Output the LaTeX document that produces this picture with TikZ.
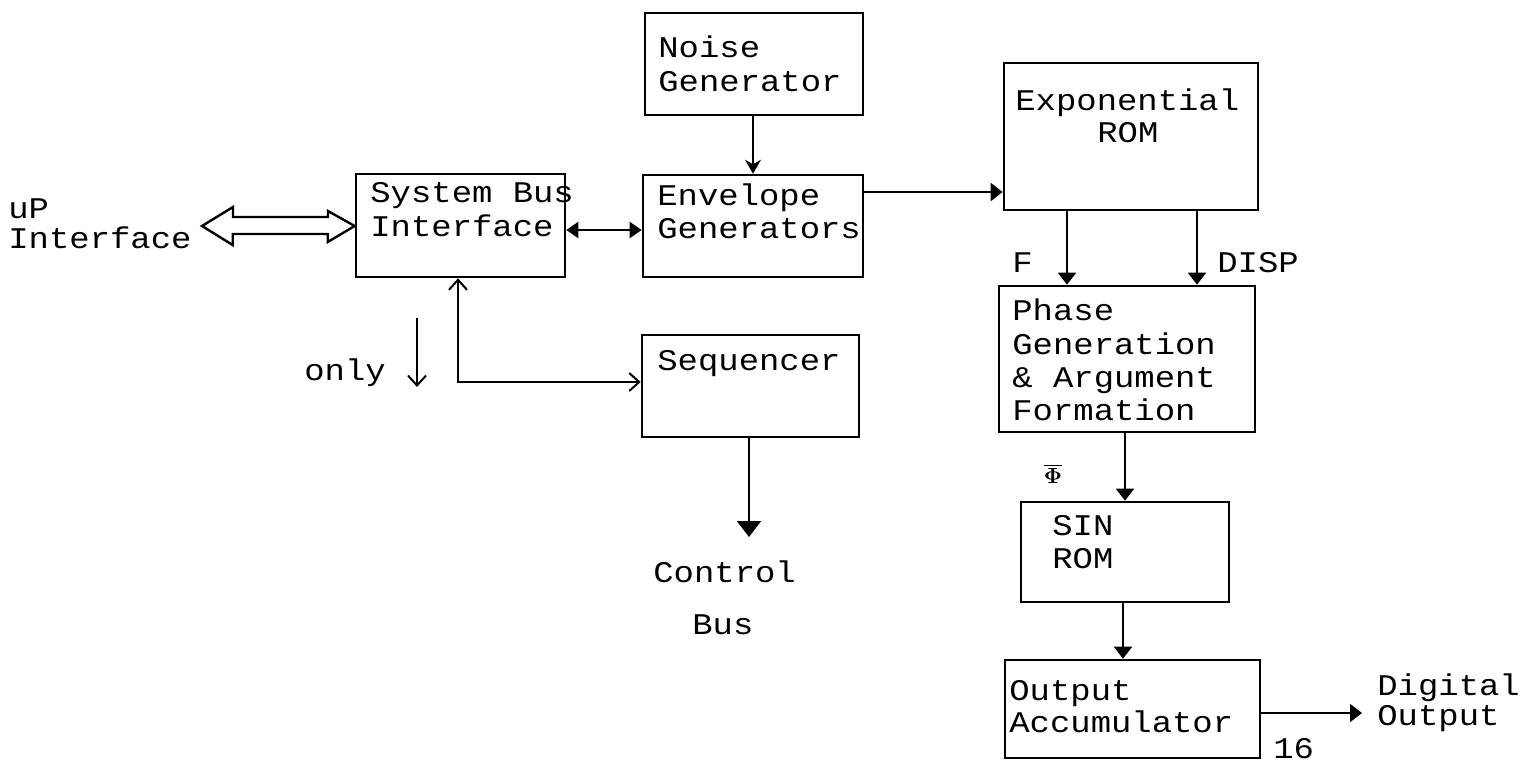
\documentclass[tikz,border=0pt]{standalone}
\usepackage{fontspec}
\setmonofont[FakeStretch=1.13]{Liberation Mono}
\usetikzlibrary{arrows.meta,fit}
\begin{document}
\begin{tikzpicture}[x=0.5pt,y=-0.5pt,
  box/.style={draw, line width=1.3pt, inner sep=0pt},
  txt/.style={anchor=base west, inner sep=0pt, font=\ttfamily\fontsize{15}{15}\selectfont},
  wire/.style={line width=1pt},
  solidtip/.style={-{Triangle[width=9pt,length=6pt]}},
  bigtip/.style={-{Triangle[width=12pt,length=8pt]}},
  opentip/.style={-{Straight Barb[width=9pt,length=5pt]}},
  bothsolid/.style={{Triangle[width=8pt,length=6pt]}-{Triangle[width=8pt,length=6pt]}},
  bothopen/.style={{Straight Barb[width=9pt,length=5pt]}-{Straight Barb[width=9pt,length=5pt]}}
]
\useasboundingbox (0,0) rectangle (1523,762);

% blocks
\node[box, fit={(645,13) (863,115)}] (ng) {};
\node[box, fit={(643,175) (863,277)}] (eg) {};
\node[box, fit={(356,174) (565,277)}] (sbi) {};
\node[box, fit={(642,335) (859,437)}] (seq) {};
\node[box, fit={(1004,63) (1258,210)}] (exp) {};
\node[box, fit={(999,286) (1255,432)}] (ph) {};
\node[box, fit={(1021,502) (1229,602)}] (sin) {};
\node[box, fit={(1005,660) (1260,758)}] (oa) {};

% block texts
\node[txt] (ng1) at (658,57) {Noise};
\node[txt] (ng2) at (658,91) {Generator};
\node[txt] (eg1) at (657,205) {Envelope};
\node[txt] (eg2) at (657,238) {Generators};
\node[txt] (sbi1) at (370,202) {System Bus};
\node[txt] (sbi2) at (370,236) {Interface};
\node[txt] (seq1) at (657,370) {Sequencer};
\node[txt] (exp1) at (1015,110) {Exponential};
\node[txt] (exp2) at (1097,142) {ROM};
\node[txt] (ph1) at (1012,320) {Phase};
\node[txt] (ph2) at (1012,354) {Generation};
\node[txt] (ph3) at (1012,387) {\& Argument};
\node[txt] (ph4) at (1012,420) {Formation};
\node[txt] (sin1) at (1052,535) {SIN};
\node[txt] (sin2) at (1052,568) {ROM};
\node[txt] (oa1) at (1009,700) {Output};
\node[txt] (oa2) at (1009,732) {Accumulator};

% free labels
\node[txt] (up1) at (8,218) {uP};
\node[txt] (up2) at (8,248) {Interface};
\node[txt] (only) at (304,380) {only};
\node[txt] (cb1) at (653,582) {Control};
\node[txt] (cb2) at (692,634) {Bus};
\node[txt] (lf) at (1012,272) {F};
\node[txt] (ld) at (1217,272) {DISP};
\node[inner sep=0pt, font=\boldmath\fontsize{11}{11}\selectfont] (lphi) at (1053,474) {$\overline{\Phi}$};
\node[txt] (do1) at (1377,695) {Digital};
\node[txt] (do2) at (1377,725) {Output};
\node[txt] (w16) at (1273,758) {16};

% reference points for connectors
\coordinate (upL) at (202,226);
\coordinate (nx) at (753,0);
\coordinate (ey) at (0,192);
\coordinate (by) at (0,230);
\coordinate (bend) at (458,382);
\coordinate (fx) at (1067,0);
\coordinate (dx) at (1197,0);
\coordinate (px) at (1125,0);
\coordinate (sx) at (1123,0);
\coordinate (cbEnd) at (749,537);
\coordinate (onlyA) at (417,318);
\coordinate (onlyB) at (417,387);
\coordinate (doEnd) at (1362,713);

% hollow double arrow of the processor interface
\draw[line width=1.2pt, line join=miter]
  (upL) -- ++(31,-19) -- ++(0,10) -- ++(95,0) -- ++(0,-6)
  -- (sbi.west |- upL) -- ++(-27,16) -- ++(0,-8) -- ++(-95,0) -- ++(0,11) -- cycle;

% connectors
\draw[wire, -{Stealth[width=8pt,length=7pt]}] (nx |- ng.south) -- (nx |- eg.north);
\draw[wire, bothsolid] (sbi.east |- by) -- (eg.west |- by);
\draw[wire, solidtip] (eg.east |- ey) -- (exp.west |- ey);
\draw[wire, solidtip] (fx |- exp.south) -- (fx |- ph.north);
\draw[wire, solidtip] (dx |- exp.south) -- (dx |- ph.north);
\draw[wire, solidtip] (px |- ph.south) -- (px |- sin.north);
\draw[wire, solidtip] (sx |- sin.south) -- (sx |- oa.north);
\draw[wire, solidtip] (oa.east |- doEnd) -- (doEnd);
\draw[wire, bigtip] (seq.south -| cbEnd) -- (cbEnd);
\draw[wire, bothopen] (bend |- sbi.south) -- (bend) -- (seq.west |- bend);
\draw[wire, opentip] (onlyA) -- (onlyB);
\end{tikzpicture}
\end{document}
